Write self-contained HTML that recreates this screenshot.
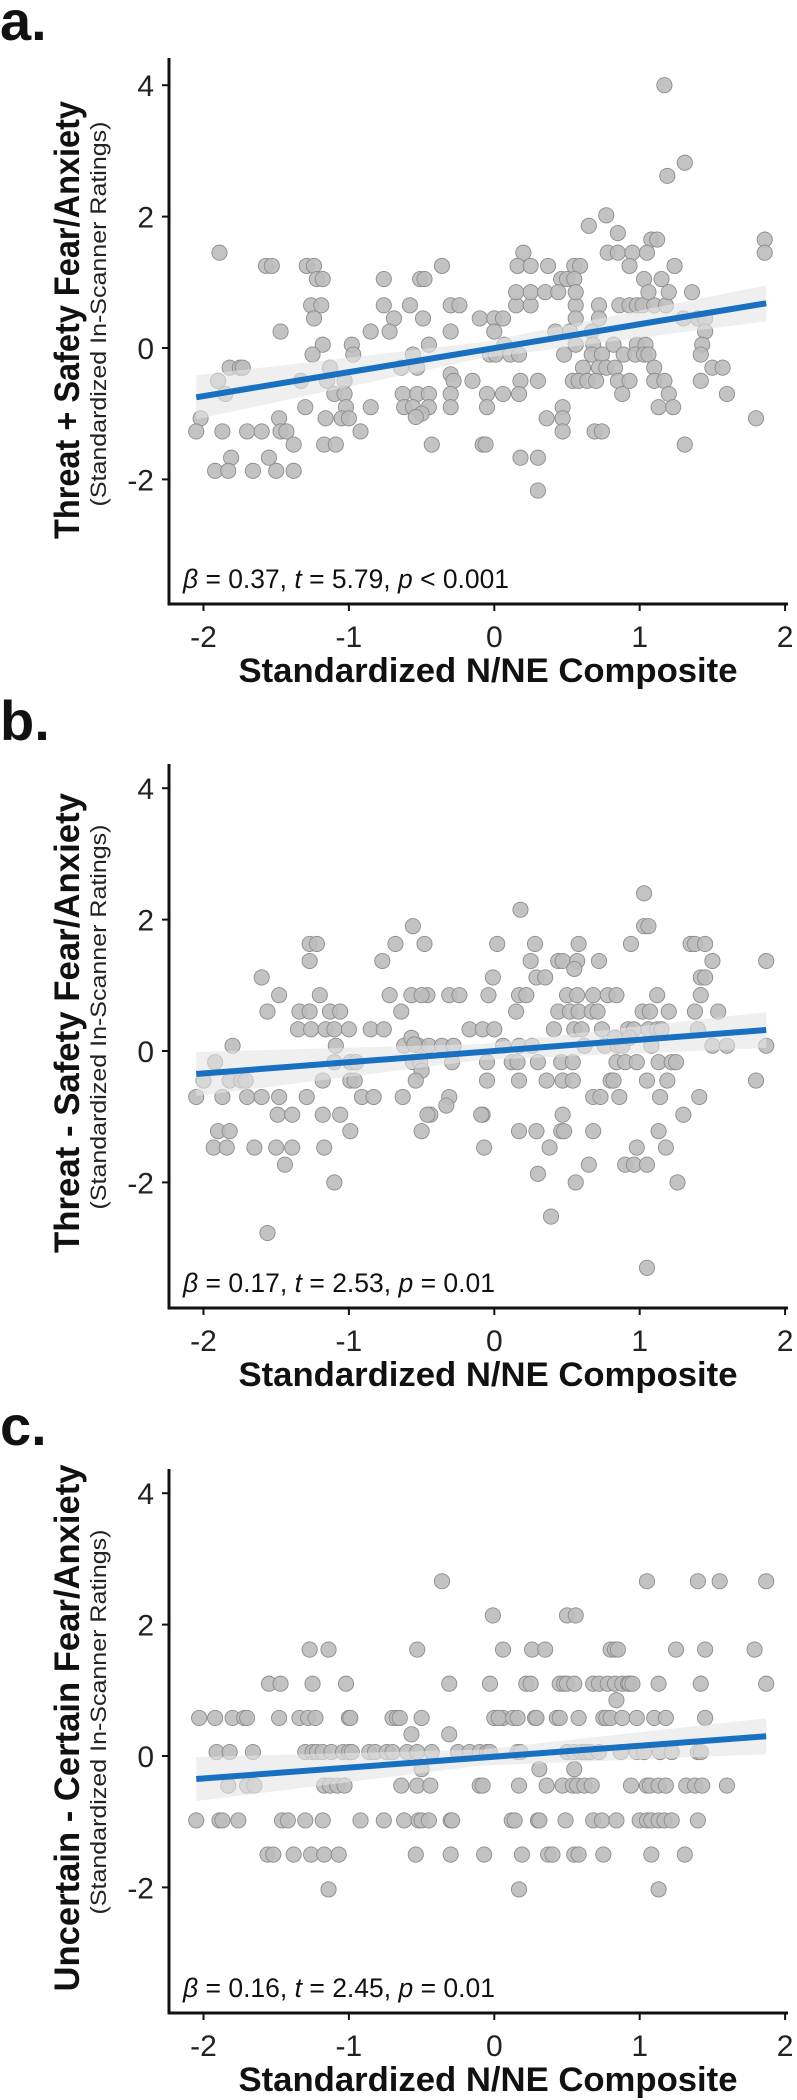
<!DOCTYPE html>
<html><head><meta charset="utf-8"><style>
html,body{margin:0;padding:0;background:#fff;}
svg{display:block;font-family:"Liberation Sans",sans-serif;}
</style></head><body>
<svg id="fig" width="797" height="2100" viewBox="0 0 797 2100" xmlns="http://www.w3.org/2000/svg"></svg>
<script>
// ---- shared axis data ----
const xTicks = [-2, -1, 0, 1, 2];
const yTicks = [4, 2, 0, -2];
const xTickLabels = ["-2", "-1", "0", "1", "2"];
const yTickLabels = ["4", "2", "0", "-2"];

// ---- panel a data ----
const aX = [1.17,1.31,1.19,0.77,0.65,0.85,1.08,1.12,1.86,1.86,-1.89,-1.57,-1.53,-1.29,-1.24,-0.36,0.2,0.16,0.25,0.37,0.55,0.59,1.24,0.78,0.85,0.95,0.93,1.05,-1.22,-1.18,-0.76,-0.51,-0.48,0.46,0.5,0.55,1.03,1.15,-1.26,-1.19,-0.76,-0.58,-0.3,-0.24,0.15,0.25,0.56,0.72,0.86,0.93,0.98,1.02,1.1,1.18,0.15,0.25,0.35,0.44,0.56,1.06,1.2,1.36,-1.24,-0.69,-0.49,-0.1,0.0,0.06,0.56,0.72,1.3,1.4,1.45,-1.47,-0.85,-0.72,-0.3,0.0,0.42,0.52,0.67,1.45,-1.18,-0.98,-0.45,0.07,0.56,0.68,0.82,0.98,1.04,1.43,-1.25,-0.97,-0.56,-0.03,0.01,0.11,0.17,0.48,0.67,0.74,0.89,0.97,1.03,1.06,1.42,-1.13,-0.64,-0.53,-0.3,0.61,0.72,0.77,0.83,1.1,1.5,1.57,-1.82,-1.75,-1.73,-1.9,-1.33,-1.15,-1.03,-0.28,-0.15,0.18,0.3,0.54,0.58,0.64,0.7,0.85,0.93,1.1,1.17,1.42,-1.85,-1.1,-1.03,-0.63,-0.53,-0.45,-0.3,-0.05,0.06,0.17,0.88,1.2,1.6,-1.3,-1.02,-0.85,-0.62,-0.56,-0.45,-0.3,-0.05,0.47,1.13,1.23,-0.5,-0.54,-2.02,-1.16,-1.05,-1.0,-1.48,0.36,0.47,1.8,-2.05,-1.87,-1.7,-1.6,-1.47,-1.43,-0.92,0.47,0.69,0.74,-1.38,-1.17,-1.09,-0.43,-0.08,-0.06,1.31,-1.81,-1.55,0.18,0.3,-1.92,-1.83,-1.66,-1.5,-1.38,0.3];
const aY = [4.0,2.82,2.62,2.02,1.86,1.75,1.65,1.65,1.65,1.45,1.45,1.25,1.25,1.25,1.25,1.25,1.45,1.25,1.25,1.25,1.25,1.25,1.25,1.45,1.45,1.45,1.25,1.45,1.05,1.05,1.05,1.05,1.05,1.05,1.05,1.05,1.05,1.05,0.65,0.65,0.65,0.65,0.65,0.65,0.65,0.65,0.65,0.65,0.65,0.65,0.65,0.65,0.65,0.65,0.85,0.85,0.85,0.85,0.85,0.85,0.85,0.85,0.45,0.45,0.45,0.45,0.45,0.45,0.45,0.45,0.45,0.45,0.45,0.25,0.25,0.25,0.25,0.25,0.25,0.25,0.25,0.25,0.05,0.05,0.05,0.05,0.05,0.05,0.05,0.05,0.05,0.05,-0.1,-0.1,-0.1,-0.1,-0.1,-0.1,-0.1,-0.1,-0.1,-0.1,-0.1,-0.1,-0.1,-0.1,-0.1,-0.3,-0.3,-0.3,-0.4,-0.3,-0.3,-0.3,-0.3,-0.3,-0.3,-0.3,-0.3,-0.3,-0.3,-0.5,-0.5,-0.5,-0.5,-0.5,-0.5,-0.5,-0.5,-0.5,-0.5,-0.5,-0.5,-0.5,-0.5,-0.5,-0.5,-0.5,-0.7,-0.7,-0.7,-0.7,-0.7,-0.7,-0.7,-0.7,-0.7,-0.7,-0.7,-0.7,-0.7,-0.9,-0.9,-0.9,-0.9,-0.9,-0.9,-0.9,-0.9,-0.9,-0.9,-0.9,-1.0,-1.05,-1.07,-1.07,-1.07,-1.07,-1.07,-1.07,-1.07,-1.07,-1.27,-1.27,-1.27,-1.27,-1.27,-1.27,-1.27,-1.27,-1.27,-1.27,-1.47,-1.47,-1.47,-1.47,-1.47,-1.47,-1.47,-1.67,-1.67,-1.67,-1.67,-1.87,-1.87,-1.87,-1.87,-1.87,-2.17];
const aFit = [-0.75, 0.68];

// ---- panel b data ----
const bX = [1.03,0.18,-0.56,1.03,1.06,-1.27,-1.22,-0.68,-0.48,0.02,0.28,0.58,0.94,1.35,1.38,1.45,-1.27,-0.77,0.25,0.44,0.47,0.57,0.72,1.5,1.87,0.55,-1.6,-0.01,0.29,0.35,1.42,1.45,-1.48,-1.2,-0.72,-0.57,-0.46,-0.5,-0.31,-0.24,-0.04,0.17,0.22,0.5,0.57,0.68,0.78,0.84,1.12,1.42,-1.56,-1.34,-1.27,-1.13,-1.06,-0.64,0.15,0.44,0.52,0.58,0.67,0.71,1.02,1.07,1.2,1.38,1.54,-1.35,-1.26,-1.16,-1.1,-1.0,-0.85,-0.76,-0.17,-0.08,0.0,0.41,0.55,0.6,0.74,0.92,0.96,1.06,1.12,1.15,1.4,-1.8,-1.09,-0.62,-0.52,-0.45,-0.36,-0.28,0.06,0.17,0.26,0.62,0.76,0.85,0.88,1.08,1.5,1.6,1.87,-0.57,-0.55,0.83,0.93,-1.92,-1.1,-0.99,-0.95,-0.56,-0.51,-0.29,-0.05,0.12,0.16,0.3,0.46,0.54,0.84,0.9,0.98,1.13,1.22,1.25,-0.5,-2.0,-1.82,-1.74,-1.71,-1.18,-0.99,-0.96,-0.54,-0.05,0.17,0.36,0.47,0.54,0.8,0.82,1.05,1.19,1.8,-2.05,-1.87,-1.7,-1.6,-1.48,-1.29,-0.91,-0.83,-0.63,-0.31,0.68,0.73,0.86,1.14,1.41,-0.33,-1.49,-1.39,-1.18,-1.06,-0.44,-0.46,-0.08,-0.09,0.47,1.3,-1.9,-1.82,-0.99,-0.5,0.17,0.29,0.46,0.48,0.68,1.13,-1.93,-1.84,-1.65,-1.5,-1.39,-1.17,-0.07,0.38,0.98,1.18,-1.44,0.65,0.9,0.96,1.05,0.3,-1.1,0.56,1.26,0.39,-1.56,1.05];
const bY = [2.4,2.15,1.9,1.9,1.9,1.63,1.63,1.63,1.63,1.63,1.63,1.63,1.63,1.63,1.63,1.63,1.37,1.37,1.37,1.37,1.37,1.37,1.37,1.37,1.37,1.25,1.12,1.12,1.12,1.12,1.12,1.12,0.85,0.85,0.85,0.85,0.85,0.85,0.85,0.85,0.85,0.85,0.85,0.85,0.85,0.85,0.85,0.85,0.85,0.85,0.6,0.6,0.6,0.6,0.6,0.6,0.6,0.6,0.6,0.6,0.6,0.6,0.6,0.6,0.6,0.6,0.6,0.33,0.33,0.33,0.33,0.33,0.33,0.33,0.33,0.33,0.33,0.33,0.33,0.33,0.33,0.33,0.33,0.33,0.33,0.33,0.33,0.08,0.08,0.08,0.08,0.08,0.08,0.08,0.08,0.08,0.08,0.08,0.08,0.08,0.08,0.08,0.08,0.08,0.08,0.2,0.1,0.2,0.2,-0.17,-0.17,-0.17,-0.17,-0.17,-0.17,-0.17,-0.17,-0.17,-0.17,-0.17,-0.17,-0.17,-0.17,-0.17,-0.17,-0.17,-0.17,-0.17,-0.3,-0.45,-0.45,-0.45,-0.45,-0.45,-0.45,-0.45,-0.45,-0.45,-0.45,-0.45,-0.45,-0.45,-0.45,-0.45,-0.45,-0.45,-0.45,-0.7,-0.7,-0.7,-0.7,-0.7,-0.7,-0.7,-0.7,-0.7,-0.7,-0.7,-0.7,-0.7,-0.7,-0.7,-0.83,-0.97,-0.97,-0.97,-0.97,-0.97,-0.97,-0.97,-0.97,-0.97,-0.97,-1.22,-1.22,-1.22,-1.22,-1.22,-1.22,-1.22,-1.22,-1.22,-1.22,-1.47,-1.47,-1.47,-1.47,-1.47,-1.47,-1.47,-1.47,-1.47,-1.47,-1.73,-1.73,-1.73,-1.73,-1.73,-1.87,-2.0,-2.0,-2.0,-2.52,-2.77,-3.3];
const bFit = [-0.35, 0.32];

// ---- panel c data (rows of equal y) ----
const cLevels = [2.66,2.14,1.62,1.1,0.85,0.58,0.33,0.06,-0.2,-0.45,-0.98,-1.5,-2.03];
const cRows = [
 [-0.36,1.05,1.4,1.55,1.87],
 [-0.01,0.5,0.56],
 [-1.27,-1.14,-0.53,0.06,0.26,0.35,0.8,0.83,0.85,1.25,1.45,1.79],
 [-1.55,-1.47,-1.25,-1.02,-0.31,-0.03,0.22,0.25,0.45,0.48,0.5,0.55,0.68,0.72,0.78,0.83,0.88,0.92,0.93,0.95,1.13,1.42,1.87],
 [0.84],
 [-2.03,-1.92,-1.8,-1.72,-1.7,-1.48,-1.34,-1.28,-1.23,-1.0,-0.99,-0.7,-0.67,-0.65,-0.5,0.0,0.06,0.03,0.13,0.16,0.28,0.29,0.43,0.45,0.58,0.75,0.77,0.8,0.88,0.98,1.1,1.18,1.45],
 [-0.57,-0.31],
 [-1.91,-1.82,-1.66,-1.3,-1.25,-1.22,-1.18,-1.12,-1.04,-1.0,-0.98,-0.86,-0.82,-0.74,-0.7,-0.6,-0.53,-0.43,-0.25,-0.17,-0.1,-0.05,-0.03,0.16,0.18,0.5,0.55,0.6,0.63,0.66,0.72,0.87,0.98,1.03,1.14,1.22,1.4,1.42],
 [0.31,-0.5,0.55],
 [-1.83,-1.7,-1.65,-1.17,-1.13,-1.08,-1.03,-0.64,-0.53,-0.44,-0.1,-0.08,0.17,0.36,0.47,0.54,0.57,0.62,0.67,0.94,1.05,1.07,1.13,1.18,1.32,1.38,1.43,1.6],
 [-2.05,-1.89,-1.87,-1.76,-1.46,-1.42,-1.3,-1.18,-0.92,-0.76,-0.62,-0.52,-0.5,-0.45,-0.3,-0.29,0.12,0.14,0.3,0.31,0.49,0.68,0.74,0.84,1.0,1.05,1.08,1.13,1.17,1.22,1.4],
 [-1.56,-1.52,-1.38,-1.26,-1.17,-1.07,-0.54,-0.3,-0.07,0.19,0.37,0.4,0.55,0.58,0.75,1.08,1.31],
 [-1.14,0.17,1.13]
];
const cFit = [-0.35, 0.30];

const cX = [], cY = [];
cRows.forEach((row, i) => row.forEach(v => { cX.push(v); cY.push(cLevels[i]); }));

const NS = "http://www.w3.org/2000/svg";
const svg = document.getElementById("fig");
function mk(tag, attrs, parent) {
  const e = document.createElementNS(NS, tag);
  for (const k in attrs) e.setAttribute(k, attrs[k]);
  (parent || svg).appendChild(e);
  return e;
}

const panels = [
  {id:"a", label:"a.", labelY:40, zero:348, top:58, bottom:604, xs:aX, ys:aY, fit:aFit,
   title:"Threat + Safety Fear/Anxiety", titleLen:438, stats:["0.37","5.79","<","0.001"]},
  {id:"b", label:"b.", labelY:740, zero:1051, top:764, bottom:1308, xs:bX, ys:bY, fit:bFit,
   title:"Threat - Safety Fear/Anxiety", titleLen:460, stats:["0.17","2.53","=","0.01"]},
  {id:"c", label:"c.", labelY:1445, zero:1756, top:1469, bottom:2013, xs:cX, ys:cY, fit:cFit,
   title:"Uncertain - Certain Fear/Anxiety", titleLen:527, stats:["0.16","2.45","=","0.01"]}
];

const X0 = 203.5, XU = 145.4, YU = 65.7, AXL = 169, AXR = 788;
const fitX = [-2.05, 1.87];

panels.forEach(p => {
  const xs = v => X0 + (v + 2) * XU;
  const ys = v => p.zero - v * YU;
  const g = mk("g", {});
  
  

  const lab = mk("text", {x:0, y:p.labelY, "font-size":56, "font-weight":"bold", fill:"#111"}, g);
  lab.textContent = p.label;
  
  

  const pts = mk("g", {}, g);
  
  
  p.xs.forEach((xv, i) => {
    const c = mk("circle", {cx:xs(xv), cy:ys(p.ys[i]), r:7.6, fill:"#bcbcbc", "fill-opacity":0.9, stroke:"#8c8c8c", "stroke-width":0.9}, pts);
    
    
  });

  const x1 = xs(fitX[0]), x2 = xs(fitX[1]);
  const y1 = ys(p.fit[0]), y2 = ys(p.fit[1]);
  const band = mk("polygon", {points:`${x1},${y1-22} ${(x1+x2)/2},${(y1+y2)/2-8} ${x2},${y2-18} ${x2},${y2+18} ${(x1+x2)/2},${(y1+y2)/2+8} ${x1},${y1+22}`, fill:"#e4e4e4", "fill-opacity":0.6}, g);
  
  
  const fl = mk("line", {x1:x1, y1:y1, x2:x2, y2:y2, stroke:"#1a70c0", "stroke-width":6}, g);
  
  

  const ya = mk("line", {x1:AXL, y1:p.top, x2:AXL, y2:p.bottom+1.5, stroke:"#111", "stroke-width":3}, g);
  
  
  const xa = mk("line", {x1:AXL-1.5, y1:p.bottom, x2:AXR, y2:p.bottom, stroke:"#111", "stroke-width":3}, g);
  
  

  xTicks.forEach((t, i) => {
    mk("line", {x1:xs(t), y1:p.bottom, x2:xs(t), y2:p.bottom+7, stroke:"#111", "stroke-width":2}, g);
    const tl = mk("text", {x:xs(t), y:p.bottom+43, "font-size":30, "text-anchor":"middle", fill:"#222"}, g);
    tl.textContent = xTickLabels[i];
    
    
  });
  yTicks.forEach((t, i) => {
    mk("line", {x1:AXL-7, y1:ys(t), x2:AXL, y2:ys(t), stroke:"#111", "stroke-width":2}, g);
    const tl = mk("text", {x:154, y:ys(t)+11, "font-size":30, "text-anchor":"end", fill:"#222"}, g);
    tl.textContent = yTickLabels[i];
    
    
  });

  const xt = mk("text", {x:488, y:p.bottom+78, "font-size":34, "font-weight":"bold", "text-anchor":"middle", textLength:499, lengthAdjust:"spacingAndGlyphs", fill:"#111"}, g);
  xt.textContent = "Standardized N/NE Composite";
  
  

  const cy = p.zero - 28;
  const yt = mk("text", {x:0, y:0, "font-size":35, "font-weight":"bold", "text-anchor":"middle", textLength:p.titleLen, lengthAdjust:"spacingAndGlyphs", fill:"#111", transform:`translate(79,${cy}) rotate(-90)`}, g);
  yt.textContent = p.title;
  
  
  const ys2 = mk("text", {x:0, y:0, "font-size":22, "text-anchor":"middle", textLength:385, lengthAdjust:"spacingAndGlyphs", fill:"#222", transform:`translate(106,${cy-6}) rotate(-90)`}, g);
  ys2.textContent = "(Standardized In-Scanner Ratings)";
  
  

  const st = mk("text", {x:183, y:p.bottom-16, "font-size":27, textLength:p.id==="a"?326:312, lengthAdjust:"spacingAndGlyphs", fill:"#111"}, g);
  st.innerHTML = `<tspan font-style="italic">β</tspan> = ${p.stats[0]}, <tspan font-style="italic">t</tspan> = ${p.stats[1]}, <tspan font-style="italic">p</tspan> ${p.stats[2]} ${p.stats[3]}`;
  
  
});
</script>
</body></html>
